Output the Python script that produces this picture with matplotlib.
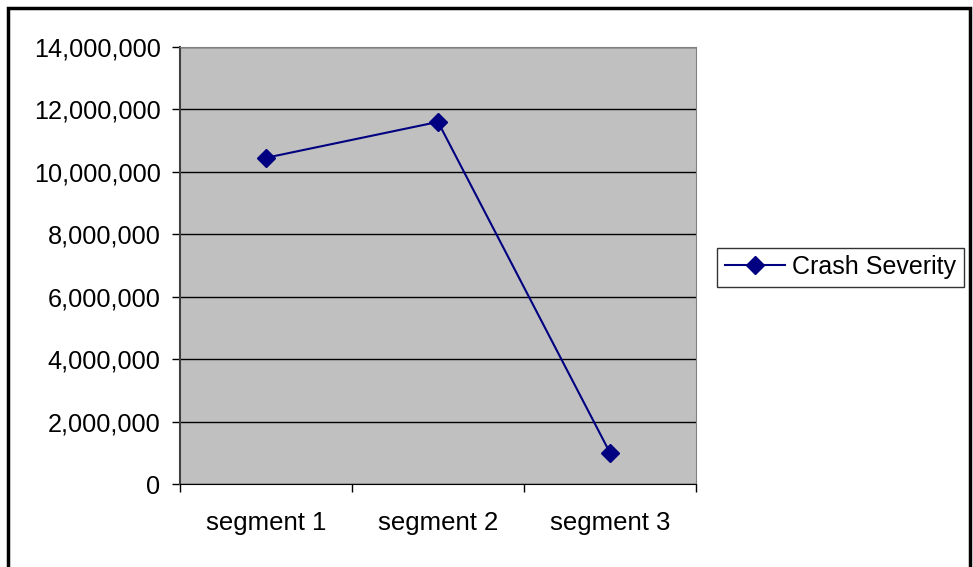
import matplotlib.pyplot as plt
import numpy as np
from matplotlib.patches import Rectangle
from matplotlib.ticker import FuncFormatter

plt.rcParams['font.family'] = ['Liberation Sans', 'DejaVu Sans']

segments = ["segment 1", "segment 2", "segment 3"]
crash_severity = [10450000, 11600000, 1000000]
y_ticks = np.arange(0, 14000001, 2000000)

fig = plt.figure(figsize=(9.73, 5.67), dpi=100)
ax = fig.add_axes([180/973, 1 - 484/567, 516/973, 437/567])
ax.set_facecolor("#C0C0C0")

x = np.arange(len(segments)) + 0.5
ax.plot(x, crash_severity, color="#000080", linewidth=1.5, marker="D",
        markersize=9, label="Crash Severity", zorder=3)

ax.set_xlim(0, len(segments))
ax.set_ylim(0, 14000000)
ax.set_yticks(y_ticks)
ax.yaxis.set_major_formatter(FuncFormatter(lambda v, p: f"{int(v):,}"))
ax.grid(axis="y", color="black", linewidth=1)
ax.set_axisbelow(True)

ax.set_xticks(x)
ax.set_xticklabels(segments)
ax.set_xticks(np.arange(len(segments) + 1), minor=True)
ax.tick_params(axis="x", which="major", length=0, pad=19.5, labelsize=18.5)
ax.tick_params(axis="x", which="minor", length=6, width=1, color="black")
ax.tick_params(axis="y", length=6, width=1, color="black", pad=8, labelsize=18.2)

for s in ["top", "right"]:
    ax.spines[s].set_color("#808080")
ax.spines["left"].set_color("#404040")
ax.spines["left"].set_linewidth(1.5)
ax.spines["bottom"].set_color("black")

leg = fig.legend(loc="center left", bbox_to_anchor=(717/973, 1 - 267/567),
                 fontsize=18, frameon=True, fancybox=False, handlelength=2.4,
                 borderpad=0.3, handletextpad=0.3, borderaxespad=0)
leg.get_frame().set_edgecolor("black")
leg.get_frame().set_linewidth(1)

# chart border (bottom edge is cut off in the original)
fig.patches.append(Rectangle((8/973, -10/567), 962/973, 569/567, transform=fig.transFigure,
                             fill=False, edgecolor="black", linewidth=2.5))

fig.savefig("out.png", dpi=100)
